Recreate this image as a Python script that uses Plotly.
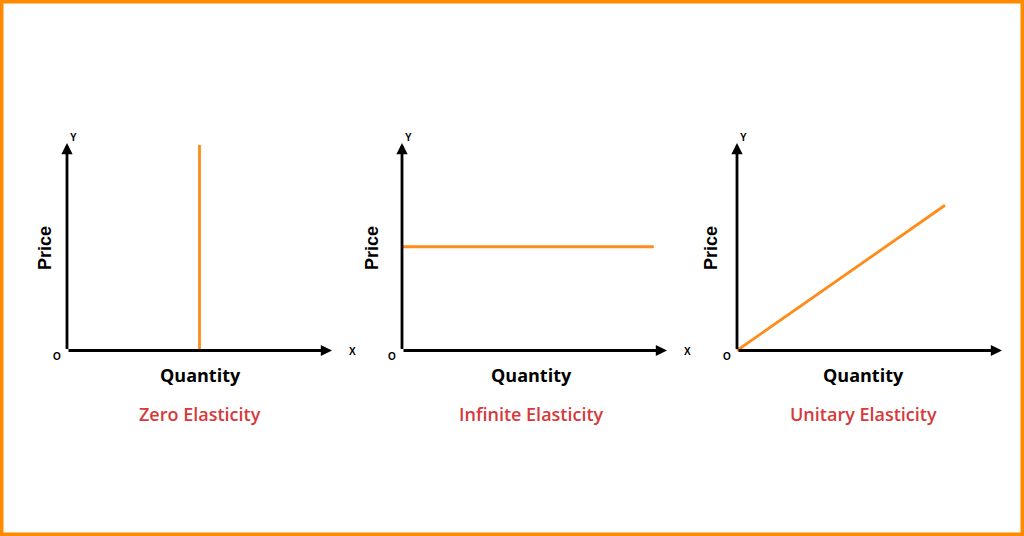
import plotly.graph_objects as go

# ---- data ----
titles = ["Zero Elasticity", "Infinite Elasticity", "Unitary Elasticity"]
x_title = "Quantity"
y_title = "Price"
axis_max = 10

zero_x = [5, 5]
zero_y = [0, 9.9]
inf_x = [0, 9.5]
inf_y = [5, 5]
unit_x = [0, 7.85]
unit_y = [0, 7.0]
series = [(zero_x, zero_y), (inf_x, inf_y), (unit_x, unit_y)]
show_x_letter = [True, True, False]

# ---- style / layout ----
W, H = 1024, 536
ORANGE_LINE = "#FF8C1A"
ORANGE_BORDER = "#FF8A00"
RED = "#D63A3A"
origins_px = [67, 402, 737]      # pixel x of each panel origin
center_px = [200, 531, 863]      # pixel x of the text under each panel
price_px = [45, 372, 711]        # pixel x of the rotated y title
y0_px, ytop_px = 350.5, 143      # pixel y of origin / arrow tip
px_per_x = 26.5
px_per_y = (y0_px - ytop_px) / axis_max
rng = [-0.5, axis_max + 0.5]


def txt(xpx, ypx, text, font, **kw):
    return dict(x=xpx / W, y=(H - ypx) / H, xref="paper", yref="paper", text=text,
                showarrow=False, xanchor="center", yanchor="middle", font=font, **kw)


fig = go.Figure()
annotations = []
for i, (xs, ys) in enumerate(series):
    n = "" if i == 0 else str(i + 1)
    ox = origins_px[i]
    d0 = (ox + rng[0] * px_per_x) / W
    d1 = (ox + rng[1] * px_per_x) / W
    yb = (H - (y0_px - rng[0] * px_per_y)) / H
    yt = (H - (y0_px - rng[1] * px_per_y)) / H
    fig.update_layout(**{
        f"xaxis{n}": dict(domain=[d0, d1], range=rng, visible=False, fixedrange=True),
        f"yaxis{n}": dict(domain=[yb, yt], range=rng, visible=False, fixedrange=True,
                          anchor=f"x{n}"),
    })
    fig.add_trace(go.Scatter(x=xs, y=ys, mode="lines",
                             line=dict(color=ORANGE_LINE, width=2.8),
                             xaxis=f"x{n}", yaxis=f"y{n}", hoverinfo="skip",
                             showlegend=False))
    # axes with arrowheads
    for (tx, ty) in [(axis_max, 0), (0, axis_max)]:
        annotations.append(dict(x=tx, y=ty, ax=0, ay=0, xref=f"x{n}", yref=f"y{n}",
                                axref=f"x{n}", ayref=f"y{n}", text="", showarrow=True,
                                arrowhead=2, arrowsize=0.8, arrowwidth=2.8,
                                arrowcolor="black", standoff=0, startstandoff=0))
    # letters
    lf = dict(family="Liberation Sans, Arial", size=10, color="black", weight="bold")
    annotations.append(txt(ox + 6, 137, "Y", lf))
    annotations.append(txt(ox - 10, 356, "O", lf))
    if show_x_letter[i]:
        annotations.append(txt(ox + 285, 351, "X", lf))
    cx = center_px[i]
    annotations.append(txt(price_px[i], 248, y_title,
                           dict(family="Liberation Sans, Arial", size=18, color="black",
                                weight="bold"), textangle=-90))
    annotations.append(txt(cx, 375, x_title,
                           dict(family="Open Sans", size=18, color="black",
                                weight="bold")))
    annotations.append(txt(cx, 414, titles[i],
                           dict(family="Open Sans", size=18, color=RED, weight=600)))

fig.update_layout(
    width=W, height=H, margin=dict(l=0, r=0, t=0, b=0),
    paper_bgcolor="white", plot_bgcolor="white",
    annotations=annotations,
    shapes=[dict(type="rect", xref="paper", yref="paper", x0=0, y0=0, x1=1, y1=1,
                 line=dict(color=ORANGE_BORDER, width=7), layer="above")],
)

fig.write_html("out.html", config={"displayModeBar": False},
               post_script="document.body.style.margin='0';document.body.style.overflow='hidden';")
